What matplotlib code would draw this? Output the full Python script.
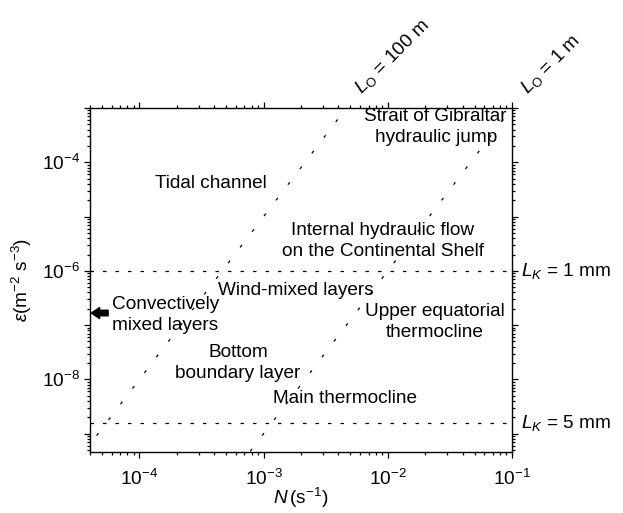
import numpy as np
import matplotlib
matplotlib.use("Agg")
import matplotlib.pyplot as plt
from matplotlib.ticker import LogLocator, NullFormatter

plt.rcParams['font.family'] = ['Liberation Sans', 'DejaVu Sans']
plt.rcParams['mathtext.fontset'] = 'custom'
plt.rcParams['mathtext.rm'] = 'Liberation Sans'
plt.rcParams['mathtext.it'] = 'Liberation Sans:italic'
plt.rcParams['mathtext.bf'] = 'Liberation Sans:bold'
plt.rcParams['lines.scale_dashes'] = False

# ---- data ----
nu = 1e-6                                  # kinematic viscosity (m^2 s^-1)
ozmidov_scales = [100.0, 1.0]              # L_O (m)
ozmidov_labels = [r'$L_{\rm O}$ = 100 m', r'$L_{\rm O}$ = 1 m']
kolmogorov_scales = [1e-3, 5e-3]           # L_K (m)
kolmogorov_labels = [r'$L_K$ = 1 mm', r'$L_K$ = 5 mm']

regions = ["Strait of Gibraltar\nhydraulic jump",
           "Tidal channel",
           "Internal hydraulic flow\non the Continental Shelf",
           "Wind-mixed layers",
           "Upper equatorial\nthermocline",
           "Bottom\nboundary layer",
           "Main thermocline"]
region_N = [2.43e-2, 3.79e-4, 9.1e-3, 1.82e-3, 2.39e-2, 6.24e-4, 4.52e-3]
region_eps = [4.4e-4, 4.08e-5, 3.6e-6, 4.26e-7, 1.14e-7, 2.0e-8, 4.46e-9]

convective_label = "Convectively\nmixed layers"
convective_N = 5.96e-5
convective_eps = 1.55e-7

xlim = (4e-5, 1e-1)
ylim = (4.6e-10, 1e-3)
xtick_vals = [1e-4, 1e-3, 1e-2, 1e-1]
xtick_labels = [r'$10^{-4}$', r'$10^{-3}$', r'$10^{-2}$', r'$10^{-1}$']
ytick_vals = [1e-8, 1e-6, 1e-4]
ytick_labels = [r'$10^{-8}$', r'$10^{-6}$', r'$10^{-4}$']

# ---- figure ----
fig = plt.figure(figsize=(6.23, 5.13), dpi=100)
ax = fig.add_axes([90/623, 1-452/513, 422/623, 344/513])
ax.set_xscale('log')
ax.set_yscale('log')
ax.set_xlim(*xlim)
ax.set_ylim(*ylim)

fs = 13.7

# Ozmidov lines: eps = L^2 N^3
Ngrid = np.array([1e-6, 1.0])
for L, lab in zip(ozmidov_scales, ozmidov_labels):
    ax.plot(Ngrid, L**2 * Ngrid**3, color='k', lw=0.9, dashes=(2.2, 12.0))
    Ntop = (ylim[1] / L**2) ** (1/3)
    ax.annotate(lab, xy=(Ntop, ylim[1]), xytext=(11, 10), textcoords='offset points',
                rotation=45, rotation_mode='anchor', ha='left', va='baseline',
                fontsize=fs, annotation_clip=False)

# Kolmogorov lines: eps = nu^3 / L^4
for L, lab in zip(kolmogorov_scales, kolmogorov_labels):
    e = nu**3 / L**4
    ax.axhline(e, color='k', lw=0.9, dashes=(2.5, 6.5))
    ax.text(1.022, e, lab, transform=ax.get_yaxis_transform(), ha='left', va='center',
            fontsize=fs)

for t, xN, ye in zip(regions, region_N, region_eps):
    ax.text(xN, ye, t, ha='center', va='center', fontsize=fs, linespacing=1.3)

ax.text(convective_N, convective_eps, convective_label, ha='left', va='center',
        fontsize=fs, linespacing=1.3)
ax.annotate('', xy=(4.1e-5, 1.67e-7), xytext=(5.6e-5, 1.67e-7),
            arrowprops=dict(arrowstyle='simple,head_length=0.6,head_width=0.8,tail_width=0.4',
                            color='k', shrinkA=0, shrinkB=0))

# ---- ticks ----
ax.set_xticks(xtick_vals)
ax.set_xticklabels(xtick_labels)
ax.xaxis.set_minor_locator(LogLocator(base=10, subs=np.arange(2, 10), numticks=20))
ax.xaxis.set_minor_formatter(NullFormatter())

ax.yaxis.set_major_locator(LogLocator(base=10, numticks=20))
ax.yaxis.set_minor_locator(LogLocator(base=10, subs=np.arange(2, 10), numticks=20))
ax.yaxis.set_minor_formatter(NullFormatter())


def yfmt(v, p):
    for t, l in zip(ytick_vals, ytick_labels):
        if abs(np.log10(v) - np.log10(t)) < 0.01:
            return l
    return ''


ax.yaxis.set_major_formatter(matplotlib.ticker.FuncFormatter(yfmt))

ax.tick_params(which='both', direction='out', top=True, right=True, labelsize=fs,
               width=0.9, color='k')
ax.tick_params(which='major', length=4)
ax.tick_params(which='minor', length=2.2)
ax.tick_params(axis='x', pad=8)
ax.tick_params(axis='y', pad=3)
for s in ax.spines.values():
    s.set_linewidth(1.0)

ax.set_xlabel(r'$N\,$(s$^{-1}$)', fontsize=fs, labelpad=-2)
ax.set_ylabel(r'$\varepsilon$(m$^{-2}$ s$^{-3}$)', fontsize=fs, labelpad=6)

fig.savefig('out.png', dpi=100)
